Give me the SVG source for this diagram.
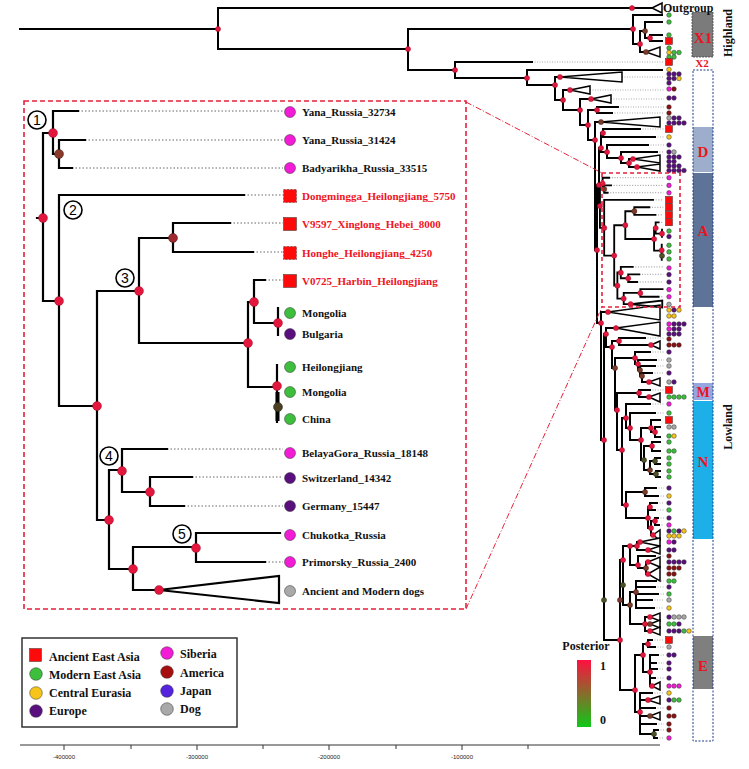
<svg xmlns="http://www.w3.org/2000/svg" xmlns:xlink="http://www.w3.org/1999/xlink" width="749" height="769" viewBox="0 0 749 769">
<style>
.br{fill:none;stroke:#000;stroke-width:2;stroke-linecap:square}
.dt{fill:none;stroke:#888;stroke-width:0.7;stroke-dasharray:1 1.5}
.tri{fill:#fff;stroke:#000;stroke-width:1.5;stroke-linejoin:miter}
.nd{fill:#E3173E;stroke:#8a0a20;stroke-width:0.4}
.nb{fill:#7A3B2B;stroke:#3a1a10;stroke-width:0.4}
.no{fill:#4E5224;stroke:#222;stroke-width:0.4}
.mk circle,.mk rect{stroke:#333;stroke-width:0.5}
.G{fill:#3DBE3D}.P{fill:#5A0F7E}.M{fill:#F21BD6}.Y{fill:#F7C51A}.DR{fill:#8B1010}.Gy{fill:#A9A9A9}.J{fill:#5522DD}
.S{fill:#FF0A0A}
.lab{font-family:"Liberation Serif","Times New Roman",serif;font-weight:bold;font-size:11px;fill:#111}
.red{fill:#F0141E}
.leg{font-family:"Liberation Serif","Times New Roman",serif;font-weight:bold;font-size:12px;fill:#111}
.cl{font-family:"Liberation Serif","Times New Roman",serif;font-weight:bold;fill:#E8141E;text-anchor:middle}
.ax{font-family:"Liberation Sans",Arial,sans-serif;font-size:6px;fill:#222;text-anchor:middle}
.num{font-family:"Liberation Sans",Arial,sans-serif;font-size:14px;fill:#000;text-anchor:middle}
</style>
<defs>
<linearGradient id="post" x1="0" y1="0" x2="0" y2="1">
<stop offset="0" stop-color="#FF1040"/>
<stop offset="1" stop-color="#10C818"/>
</linearGradient>
<g id="insetLines" fill="none" stroke="#000" stroke-linecap="square">
<path d="M37,218H43 M43,133V301 M43,133H53 M53,111V154 M53,111H78 M53,154H59 M59,140V168 M59,140H85 M59,168H72 M43,301H59 M59,195V406 M59,195H244 M59,406H97 M97,291V520 M97,291H139 M139,238V343 M139,238H173 M173,223V252 M173,223H230 M173,252H253 M139,343H248 M248,302V387 M248,302H254 M254,280V323 M254,280H265 M254,323H278 M278,308V335 M248,387H277 M277,365V422 M97,520H109 M109,470V569 M109,470H122 M122,449V492 M122,449H167 M122,492H150 M150,477V506 M150,477H192 M150,506H184 M109,569H133 M133,547V590 M133,547H196 M196,533V562 M196,533H280 M196,562H265 M133,590H159"/>
<polygon points="159,590 279,576 279,603"/>
</g>
<g id="insetDots" fill="none" stroke="#666">
<path d="M78,111H283 M85,140H283 M72,168H283 M244,195H283 M230,223H283 M253,252H283 M265,280H283 M167,449H283 M192,477H283 M184,506H283 M265,562H283"/>
</g>
</defs>
<rect width="749" height="769" fill="#fff"/>

<!-- clade bars -->
<g id="clades">
<rect x="692" y="12" width="21" height="45" fill="#7B7B7B" stroke="#444" stroke-width="0.8" stroke-dasharray="2 1"/>
<rect x="693" y="70" width="20" height="671" fill="#fff"/>
<rect x="693" y="127" width="20" height="45" fill="#9CAECB"/>
<rect x="693" y="173" width="20" height="134" fill="#5E7398"/>
<rect x="693" y="383" width="20" height="17" fill="#96A6DE"/>
<rect x="693" y="401" width="20" height="138" fill="#1DAFE8"/>
<rect x="693" y="636" width="20" height="53" fill="#7F7F7F"/>
<rect x="693" y="70" width="20" height="671" fill="none" stroke="#1F3C88" stroke-width="1" stroke-dasharray="2 1.5"/>
<text class="cl" x="703" y="43" font-size="15">X1</text>
<text class="cl" x="702" y="67" font-size="11">X2</text>
<text class="cl" x="703" y="157" font-size="15">D</text>
<text class="cl" x="703" y="236" font-size="15">A</text>
<text class="cl" x="703" y="397" font-size="14">M</text>
<text class="cl" x="703" y="467" font-size="15">N</text>
<text class="cl" x="703" y="671" font-size="15">E</text>
<text class="leg" transform="translate(732,33) rotate(-90)" text-anchor="middle">Highland</text>
<text class="leg" transform="translate(732,427) rotate(-90)" text-anchor="middle">Lowland</text>
</g>

<!-- main tree connectors -->
<g id="connectors">
<path class="dt" d="M532,62H664 M622,77H664 M590,90H664 M611,99H664 M618,107H664 M612,113H664 M640,129H664 M655,137H664 M648,145H664 M657,152H664 M645,338H664 M650,352H664 M656,360H664 M655,366H664 M652,373H664 M650,390H664 M650,404H664 M655,413H664 M656,488H664 M658,496H664 M657,503H664 M655,510H664 M658,518H664 M659,525H664 M655,556H664 M656,581H664 M655,587H664 M658,594H664 M652,600H664 M654,608H664 M652,640H664 M655,647H664 M658,655H664 M656,663H664 M657,669H664 M655,678H664 M652,693H664 M655,708H664 M656,724H664 M658,730H664 M657,738H664"/>
<path class="br" d="M20,29H218 M218,8V49 M218,8H652 M218,49H408 M408,29V70 M408,29H633 M408,70H455 M455,62V78 M455,62H532 M455,78H527 M527,70V85 M527,70H662 M527,85H555
M633,15V44 M633,15H662 M633,44H640 M640,31V52 M640,31H645 M645,22V38 M645,22H662 M645,38H650 M650,35V41 M650,35H662 M650,41H662 M640,52H646
M555,77V100 M555,77H560 M555,100H563 M563,90V110 M563,90H570 M563,110H580 M580,99V125 M580,99H591 M580,125H588 M588,110V140 M588,110H597 M597,107V113 M597,107H618 M597,113H612 M588,140H595
M595,122V250 M595,122H601 M595,250H597
M597,185V323 M597,185H599 M597,323H601
M599,148V206 M599,148H601 M599,206H600
M601,133V152 M601,133H603 M601,152H607
M603,129V137 M603,129H640 M603,137H655
M607,145V158 M607,145H648 M607,158H621
M621,152V163 M621,152H657 M621,163H629
M629,159V167 M629,159H633 M629,167H637
M601,312V440 M601,312H608 M601,440H604
M604,334V640 M604,334H606 M604,640H620
M606,328V347 M606,328H616 M606,347H612
M612,341V368 M612,341H619 M612,368H615
M619,338V345 M619,338H645 M619,345H651
M615,358V410 M615,358H635 M615,410H617
M635,352V364 M635,352H650 M635,364H638
M638,360V370 M638,360H656 M638,370H640
M640,366V376 M640,366H655 M640,376H642
M642,373V382 M642,373H652 M642,382H649
M617,393V450 M617,393H639 M617,450H622
M639,390V397 M639,390H650 M639,397H649
M622,418V505 M622,418H626 M622,505H626
M626,404V428 M626,404H650 M626,428H630
M630,413V440 M630,413H655 M630,440H641
M641,428V460 M641,428H651 M641,460H644
M651,420V432 M651,420H660 M651,432H655
M655,427V437 M655,427H660 M655,437H660
M644,446V470 M644,446H652 M644,470H650
M652,442V451 M652,442H660 M652,451H660
M650,461V474 M650,461H655 M650,474H656
M655,458V464 M655,458H660 M655,464H660
M656,471V477 M656,471H660 M656,477H660
M626,492V518 M626,492H645 M626,518H648
M645,488V496 M645,488H656 M645,496H658
M648,507V528 M648,507H650 M648,528H651
M650,503V510 M650,503H657 M650,510H655
M651,521V535 M651,521H655 M651,535H653
M655,518V525 M655,518H658 M655,525H659
M620,560V690 M620,560H623 M620,690H635
M623,546V605 M623,546H630 M623,605H630
M630,546V565 M630,546H637 M630,565H638
M637,542V550 M637,542H640 M637,550H648
M638,556V568 M638,556H655 M638,568H646
M646,562V574 M646,562H648 M646,574H648
M630,592V624 M630,592H636 M630,624H645
M636,581V608 M636,581H656 M636,587H655 M636,594H658 M636,600H652 M636,608H654
M645,617V631 M645,617H650 M645,624H650 M645,631H650
M635,655V712 M635,655H643 M635,712H640
M643,644V672 M643,644H648 M643,672H650
M648,640V647 M648,640H652 M648,647H655
M650,655V686 M650,655H658 M650,663H656 M650,669H657 M650,678H655 M650,686H652
M640,693V734 M640,693H652 M640,700H648 M640,708H655 M640,716H650 M640,724H656 M640,734H654
M654,730V738 M654,730H658 M654,738H657"/>
<g id="triangles">
<polygon class="tri" points="652,8 662,3 662,13"/>
<polygon class="tri" points="646,52 660,47 660,57"/>
<polygon class="tri" points="560,77 622,72 622,82"/>
<polygon class="tri" points="570,90 590,86 590,94"/>
<polygon class="tri" points="591,99 611,95 611,103"/>
<polygon class="tri" points="601,122 660,117 660,127"/>
<polygon class="tri" points="633,159 660,155 660,163"/>
<polygon class="tri" points="637,167 660,164 660,171"/>
<polygon class="tri" points="608,312 660,305 660,320"/>
<polygon class="tri" points="616,328 660,322 660,336"/>
<polygon class="tri" points="651,345 660,341 660,349"/>
<polygon class="tri" points="649,382 660,378 660,386"/>
<polygon class="tri" points="649,397 660,393 660,402"/>
<polygon class="tri" points="653,535 660,530 660,540"/>
<polygon class="tri" points="640,542 660,538 660,546"/>
<polygon class="tri" points="648,550 660,546 660,554"/>
<polygon class="tri" points="648,562 660,557 660,567"/>
<polygon class="tri" points="648,574 660,567 660,581"/>
<polygon class="tri" points="650,617 660,613 660,621"/>
<polygon class="tri" points="650,624 660,620 660,628"/>
<polygon class="tri" points="650,631 660,627 660,635"/>
<polygon class="tri" points="652,686 660,682 660,690"/>
<polygon class="tri" points="648,700 660,696 660,704"/>
<polygon class="tri" points="650,716 660,712 660,720"/>
</g>
<!-- small copy of inset clade inside main tree -->
<use xlink:href="#insetDots" transform="translate(588.6,148.4) scale(0.264)" stroke-width="2.6" stroke-dasharray="4 6"/>
<use xlink:href="#insetLines" transform="translate(588.6,148.4) scale(0.264)" stroke-width="7"/>
</g>

<!-- main tree node posteriors -->
<g id="tree-nodes">
<g class="nd">
<circle cx="218" cy="29" r="2.6"/><circle cx="408" cy="49" r="2.6"/><circle cx="455" cy="70" r="2.6"/><circle cx="527" cy="78" r="2.6"/><circle cx="632" cy="8" r="2.6"/><circle cx="633" cy="29" r="2.6"/><circle cx="640" cy="44" r="2.6"/><circle cx="650" cy="38" r="2.6"/>
<circle cx="555" cy="85" r="2.6"/><circle cx="560" cy="77" r="2.6"/><circle cx="563" cy="100" r="2.6"/><circle cx="570" cy="90" r="2.6"/><circle cx="580" cy="110" r="2.6"/><circle cx="591" cy="99" r="2.6"/><circle cx="588" cy="125" r="2.6"/><circle cx="597" cy="110" r="2.6"/><circle cx="595" cy="140" r="2.6"/>
<circle cx="597" cy="250" r="2.6"/><circle cx="599" cy="185" r="2.6"/><circle cx="601" cy="148" r="2.6"/><circle cx="603" cy="133" r="2.6"/><circle cx="607" cy="152" r="2.6"/><circle cx="621" cy="158" r="2.6"/><circle cx="629" cy="163" r="2.6"/><circle cx="633" cy="159" r="2.6"/><circle cx="637" cy="167" r="2.6"/>
<circle cx="600" cy="206" r="2.6"/><circle cx="602.6" cy="183.5" r="2.6"/><circle cx="604.2" cy="227.9" r="2.6"/><circle cx="614.2" cy="255.6" r="2.6"/><circle cx="625.3" cy="225.2" r="2.6"/><circle cx="654.1" cy="239" r="2.6"/><circle cx="655.7" cy="228.1" r="2.6"/><circle cx="662" cy="233.7" r="2.6"/><circle cx="661.7" cy="250.3" r="2.6"/><circle cx="617.4" cy="285.7" r="2.6"/><circle cx="620.8" cy="272.7" r="2.6"/><circle cx="628.2" cy="278.3" r="2.6"/><circle cx="623.7" cy="298.6" r="2.6"/><circle cx="640.3" cy="293.1" r="2.6"/><circle cx="630.6" cy="304.2" r="2.6"/>
<circle cx="601" cy="323" r="2.6"/><circle cx="608" cy="312" r="2.6"/><circle cx="604" cy="440" r="2.6"/><circle cx="606" cy="334" r="2.6"/><circle cx="616" cy="328" r="2.6"/><circle cx="612" cy="347" r="2.6"/><circle cx="619" cy="341" r="2.6"/><circle cx="651" cy="345" r="2.6"/><circle cx="635" cy="358" r="2.6"/><circle cx="638" cy="364" r="2.6"/><circle cx="649" cy="382" r="2.6"/><circle cx="617" cy="410" r="2.6"/><circle cx="639" cy="393" r="2.6"/><circle cx="649" cy="397" r="2.6"/><circle cx="622" cy="450" r="2.6"/><circle cx="626" cy="418" r="2.6"/><circle cx="630" cy="428" r="2.6"/><circle cx="641" cy="440" r="2.6"/><circle cx="651" cy="428" r="2.6"/><circle cx="655" cy="432" r="2.6"/><circle cx="652" cy="446" r="2.6"/><circle cx="626" cy="505" r="2.6"/><circle cx="648" cy="518" r="2.6"/><circle cx="650" cy="507" r="2.6"/><circle cx="651" cy="528" r="2.6"/><circle cx="653" cy="535" r="2.6"/><circle cx="655" cy="521" r="2.6"/>
<circle cx="620" cy="640" r="2.6"/><circle cx="623" cy="560" r="2.6"/><circle cx="630" cy="546" r="2.6"/><circle cx="637" cy="546" r="2.6"/><circle cx="640" cy="542" r="2.6"/><circle cx="648" cy="550" r="2.6"/><circle cx="638" cy="565" r="2.6"/><circle cx="648" cy="562" r="2.6"/><circle cx="648" cy="574" r="2.6"/><circle cx="645" cy="624" r="2.6"/><circle cx="650" cy="617" r="2.6"/><circle cx="650" cy="631" r="2.6"/><circle cx="635" cy="690" r="2.6"/><circle cx="643" cy="655" r="2.6"/><circle cx="648" cy="644" r="2.6"/><circle cx="650" cy="672" r="2.6"/><circle cx="652" cy="686" r="2.6"/><circle cx="640" cy="712" r="2.6"/><circle cx="648" cy="700" r="2.6"/>
</g>
<g class="nb">
<circle cx="645" cy="31" r="2.6"/><circle cx="646" cy="52" r="2.6"/><circle cx="601" cy="122" r="2.6"/><circle cx="604.2" cy="189.1" r="2.6"/><circle cx="634.3" cy="211.2" r="2.6"/><circle cx="615" cy="368" r="2.6"/><circle cx="640" cy="370" r="2.6"/><circle cx="642" cy="376" r="2.6"/><circle cx="650" cy="470" r="2.6"/><circle cx="645" cy="492" r="2.6"/><circle cx="646" cy="568" r="2.6"/><circle cx="630" cy="605" r="2.6"/><circle cx="636" cy="592" r="2.6"/><circle cx="650" cy="624" r="2.6"/><circle cx="650" cy="716" r="2.6"/><circle cx="620" cy="600" r="2.6"/>
</g>
<g class="no">
<circle cx="662" cy="255.8" r="2.6"/><circle cx="644" cy="460" r="2.6"/><circle cx="655" cy="461" r="2.6"/><circle cx="656" cy="474" r="2.6"/><circle cx="654" cy="734" r="2.6"/><circle cx="623" cy="585" r="2.6"/><circle cx="604" cy="600" r="2.6"/>
</g>
</g>

<!-- tip markers -->
<g id="tip-markers" class="mk">
<circle class="G" cx="669" cy="15" r="2.3"/><circle class="G" cx="669" cy="22" r="2.3"/><circle class="G" cx="669" cy="35" r="2.3"/><rect class="S" x="665.5" y="37.5" width="7" height="7"/>
<circle class="G" cx="669" cy="48" r="2.3"/><circle class="Y" cx="669" cy="52.5" r="2.3"/><circle class="G" cx="674" cy="52.5" r="2.3"/><circle class="G" cx="679" cy="52.5" r="2.3"/><circle class="G" cx="669" cy="57" r="2.3"/><circle class="G" cx="674" cy="57" r="2.3"/>
<rect class="S" x="665.5" y="58.5" width="7" height="7"/><circle class="Y" cx="669" cy="69.5" r="2.3"/>
<circle class="P" cx="669" cy="74" r="2.3"/><circle class="P" cx="674" cy="74" r="2.3"/><circle class="P" cx="679" cy="74" r="2.3"/>
<circle class="P" cx="669" cy="78.5" r="2.3"/><circle class="P" cx="674" cy="78.5" r="2.3"/><circle class="Y" cx="679" cy="78.5" r="2.3"/><circle class="P" cx="669" cy="83" r="2.3"/>
<circle class="M" cx="669" cy="89" r="2.3"/><circle class="DR" cx="674" cy="89" r="2.3"/>
<circle class="P" cx="669" cy="98" r="2.3"/><circle class="P" cx="674" cy="98" r="2.3"/>
<circle class="DR" cx="669" cy="107" r="2.3"/><circle class="DR" cx="669" cy="113" r="2.3"/>
<circle class="Gy" cx="669" cy="118" r="2.3"/><circle class="P" cx="674" cy="118" r="2.3"/><circle class="P" cx="679" cy="118" r="2.3"/>
<circle class="P" cx="669" cy="123" r="2.3"/><circle class="P" cx="674" cy="123" r="2.3"/><circle class="P" cx="679" cy="123" r="2.3"/><circle class="P" cx="684" cy="123" r="2.3"/>
<rect class="S" x="665.5" y="125.5" width="7" height="7"/><circle class="Y" cx="669" cy="137" r="2.3"/><circle class="P" cx="669" cy="145" r="2.3"/>
<circle class="P" cx="669" cy="152" r="2.3"/><circle class="Gy" cx="674" cy="152" r="2.3"/>
<circle class="P" cx="669" cy="157" r="2.3"/><circle class="P" cx="674" cy="157" r="2.3"/><circle class="P" cx="679" cy="157" r="2.3"/>
<circle class="P" cx="669" cy="161.5" r="2.3"/><circle class="P" cx="674" cy="161.5" r="2.3"/>
<circle class="P" cx="669" cy="166" r="2.3"/><circle class="P" cx="674" cy="166" r="2.3"/><circle class="P" cx="679" cy="166" r="2.3"/>
<circle class="P" cx="669" cy="170.5" r="2.3"/><circle class="P" cx="674" cy="170.5" r="2.3"/><circle class="P" cx="679" cy="170.5" r="2.3"/><circle class="P" cx="684" cy="170.5" r="2.3"/>
<circle class="M" cx="669" cy="177.7" r="2.3"/><circle class="M" cx="669" cy="185.4" r="2.3"/><circle class="M" cx="669" cy="192.8" r="2.3"/>
<rect class="S" x="665.5" y="196.4" width="7" height="7"/><rect class="S" x="665.5" y="203.8" width="7" height="7"/><rect class="S" x="665.5" y="211.4" width="7" height="7"/><rect class="S" x="665.5" y="218.8" width="7" height="7"/>
<circle class="G" cx="669" cy="231" r="2.3"/><circle class="P" cx="669" cy="236.6" r="2.3"/><circle class="G" cx="669" cy="245.3" r="2.3"/><circle class="G" cx="669" cy="251.9" r="2.3"/><circle class="G" cx="669" cy="259" r="2.3"/>
<circle class="M" cx="669" cy="268" r="2.3"/><circle class="P" cx="669" cy="274.6" r="2.3"/><circle class="P" cx="669" cy="282" r="2.3"/><circle class="M" cx="669" cy="289.6" r="2.3"/><circle class="M" cx="669" cy="296.8" r="2.3"/><circle class="Gy" cx="669" cy="304.4" r="2.3"/>
<circle class="Y" cx="669" cy="310" r="2.3"/><circle class="P" cx="674" cy="310" r="2.3"/><circle class="Y" cx="679" cy="310" r="2.3"/><circle class="Y" cx="669" cy="316" r="2.3"/><circle class="Y" cx="674" cy="316" r="2.3"/>
<circle class="M" cx="669" cy="324" r="2.3"/><circle class="P" cx="674" cy="324" r="2.3"/><circle class="P" cx="679" cy="324" r="2.3"/><circle class="P" cx="684" cy="324" r="2.3"/>
<circle class="M" cx="669" cy="329" r="2.3"/><circle class="P" cx="674" cy="329" r="2.3"/><circle class="P" cx="679" cy="329" r="2.3"/>
<circle class="P" cx="669" cy="334" r="2.3"/><circle class="P" cx="674" cy="334" r="2.3"/><circle class="P" cx="679" cy="334" r="2.3"/>
<circle class="DR" cx="669" cy="339" r="2.3"/><circle class="DR" cx="669" cy="345" r="2.3"/><circle class="DR" cx="674" cy="345" r="2.3"/><circle class="DR" cx="679" cy="345" r="2.3"/>
<circle class="P" cx="669" cy="352" r="2.3"/><circle class="Gy" cx="669" cy="360" r="2.3"/><circle class="Gy" cx="669" cy="366" r="2.3"/><circle class="P" cx="669" cy="373" r="2.3"/><circle class="Gy" cx="669" cy="382" r="2.3"/><circle class="P" cx="674" cy="382" r="2.3"/>
<rect class="S" x="665.5" y="386.5" width="7" height="7"/>
<circle class="G" cx="669" cy="397" r="2.3"/><circle class="G" cx="674" cy="397" r="2.3"/><circle class="G" cx="679" cy="397" r="2.3"/><circle class="G" cx="684" cy="397" r="2.3"/>
<circle class="M" cx="669" cy="404" r="2.3"/><circle class="G" cx="669" cy="413" r="2.3"/><rect class="S" x="665.5" y="416.5" width="7" height="7"/>
<circle class="Gy" cx="669" cy="427" r="2.3"/><circle class="Gy" cx="674" cy="427" r="2.3"/><circle class="G" cx="669" cy="436" r="2.3"/><circle class="Y" cx="674" cy="436" r="2.3"/>
<circle class="G" cx="669" cy="442" r="2.3"/><circle class="G" cx="669" cy="451" r="2.3"/><circle class="G" cx="674" cy="451" r="2.3"/><circle class="G" cx="669" cy="458" r="2.3"/><circle class="G" cx="669" cy="464" r="2.3"/><circle class="G" cx="669" cy="471" r="2.3"/><circle class="G" cx="669" cy="477" r="2.3"/>
<circle class="P" cx="669" cy="488" r="2.3"/><circle class="Y" cx="669" cy="496" r="2.3"/><circle class="P" cx="669" cy="503" r="2.3"/><circle class="G" cx="669" cy="510" r="2.3"/><circle class="P" cx="669" cy="518" r="2.3"/><circle class="M" cx="669" cy="525" r="2.3"/>
<circle class="P" cx="669" cy="531" r="2.3"/><circle class="G" cx="674" cy="531" r="2.3"/><circle class="P" cx="679" cy="531" r="2.3"/><circle class="Y" cx="684" cy="531" r="2.3"/>
<circle class="Y" cx="669" cy="536" r="2.3"/><circle class="Y" cx="674" cy="536" r="2.3"/><circle class="Y" cx="679" cy="536" r="2.3"/>
<circle class="M" cx="669" cy="542" r="2.3"/><circle class="P" cx="674" cy="542" r="2.3"/><circle class="P" cx="669" cy="550" r="2.3"/><circle class="P" cx="674" cy="550" r="2.3"/><circle class="DR" cx="669" cy="556" r="2.3"/>
<circle class="P" cx="669" cy="562" r="2.3"/><circle class="P" cx="674" cy="562" r="2.3"/><circle class="P" cx="679" cy="562" r="2.3"/><circle class="P" cx="684" cy="562" r="2.3"/>
<circle class="DR" cx="669" cy="568" r="2.3"/><circle class="DR" cx="674" cy="568" r="2.3"/><circle class="DR" cx="679" cy="568" r="2.3"/><circle class="DR" cx="669" cy="574" r="2.3"/><circle class="DR" cx="674" cy="574" r="2.3"/>
<circle class="G" cx="669" cy="581" r="2.3"/><circle class="G" cx="674" cy="581" r="2.3"/><circle class="P" cx="669" cy="587" r="2.3"/><circle class="G" cx="669" cy="594" r="2.3"/><circle class="Gy" cx="669" cy="600" r="2.3"/><circle class="Y" cx="669" cy="608" r="2.3"/>
<circle class="P" cx="669" cy="617" r="2.3"/><circle class="Gy" cx="674" cy="617" r="2.3"/><circle class="Gy" cx="679" cy="617" r="2.3"/><circle class="Gy" cx="684" cy="617" r="2.3"/>
<circle class="G" cx="669" cy="624" r="2.3"/><circle class="G" cx="674" cy="624" r="2.3"/><circle class="P" cx="679" cy="624" r="2.3"/>
<circle class="P" cx="669" cy="631" r="2.3"/><circle class="P" cx="674" cy="631" r="2.3"/><circle class="P" cx="679" cy="631" r="2.3"/><circle class="G" cx="684" cy="631" r="2.3"/><circle class="Y" cx="689" cy="631" r="2.3"/>
<rect class="S" x="665.5" y="636.5" width="7" height="7"/><circle class="Gy" cx="669" cy="647" r="2.3"/><circle class="P" cx="669" cy="655" r="2.3"/><circle class="P" cx="674" cy="655" r="2.3"/>
<circle class="P" cx="669" cy="663" r="2.3"/><circle class="P" cx="669" cy="669" r="2.3"/><circle class="P" cx="669" cy="678" r="2.3"/>
<circle class="M" cx="669" cy="686" r="2.3"/><circle class="M" cx="674" cy="686" r="2.3"/><circle class="M" cx="679" cy="686" r="2.3"/><circle class="Y" cx="669" cy="693" r="2.3"/>
<circle class="P" cx="669" cy="700" r="2.3"/><circle class="G" cx="674" cy="700" r="2.3"/><circle class="G" cx="679" cy="700" r="2.3"/>
<circle class="DR" cx="669" cy="708" r="2.3"/><circle class="DR" cx="669" cy="716" r="2.3"/><circle class="DR" cx="674" cy="716" r="2.3"/><circle class="DR" cx="669" cy="724" r="2.3"/><circle class="DR" cx="669" cy="730" r="2.3"/><circle class="M" cx="669" cy="738" r="2.3"/>
</g>
<text class="leg" x="663" y="12" font-size="12">Outgroup</text>

<!-- zoom indicators -->
<g id="zoom-frame" fill="none" stroke="#E8203A">
<rect x="602" y="173" width="78" height="134" stroke-width="1.6" stroke-dasharray="4 3"/>
<path d="M466,102L602,173 M466,609L602,307" stroke-width="1" stroke-dasharray="6 2 1 2"/>
<rect x="24" y="101" width="442" height="508" stroke-width="1.6" stroke-dasharray="5 3"/>
</g>

<!-- inset tree -->
<g id="inset">
<use xlink:href="#insetDots" stroke-width="1" stroke-dasharray="1.5 2"/>
<use xlink:href="#insetLines" stroke-width="2.2"/>
<path d="M277.5,392V421" stroke="#000" stroke-width="4" fill="none"/>
<g class="nd">
<circle cx="43" cy="218" r="4.5"/><circle cx="53" cy="133" r="4.5"/><circle cx="59" cy="301" r="4.5"/><circle cx="97" cy="406" r="4.5"/><circle cx="139" cy="291" r="4.5"/><circle cx="248" cy="343" r="4.5"/><circle cx="254" cy="302" r="4.5"/><circle cx="278" cy="323" r="4.5"/><circle cx="277" cy="386" r="4.5"/><circle cx="109" cy="520" r="4.5"/><circle cx="122" cy="471" r="4.5"/><circle cx="150" cy="492" r="4.5"/><circle cx="133" cy="569" r="4.5"/><circle cx="196" cy="548" r="4.5"/><circle cx="159" cy="590" r="4.5"/>
</g>
<circle cx="59" cy="154" r="4.5" fill="#8B3A2A" stroke="#3a1a10" stroke-width="0.5"/>
<circle cx="173" cy="238" r="4.5" fill="#A0282E" stroke="#3a1a10" stroke-width="0.5"/>
<circle cx="278" cy="407" r="4.5" fill="#4A4020" stroke="#222" stroke-width="0.5"/>
<g id="num1"><circle cx="37" cy="120" r="9" fill="#fff" stroke="#000" stroke-width="1.6"/><text class="num" x="37" y="125">1</text></g>
<g id="num2"><circle cx="73" cy="210" r="9" fill="#fff" stroke="#000" stroke-width="1.6"/><text class="num" x="73" y="215">2</text></g>
<g id="num3"><circle cx="125" cy="278" r="9" fill="#fff" stroke="#000" stroke-width="1.6"/><text class="num" x="125" y="283">3</text></g>
<g id="num4"><circle cx="109" cy="456" r="9" fill="#fff" stroke="#000" stroke-width="1.6"/><text class="num" x="109" y="461">4</text></g>
<g id="num5"><circle cx="182" cy="534" r="9" fill="#fff" stroke="#000" stroke-width="1.6"/><text class="num" x="182" y="539">5</text></g>
<g class="mk">
<g id="tip-yana1"><circle class="M" cx="290" cy="112" r="5.5"/><text class="lab" x="302" y="116">Yana_Russia_32734</text></g>
<g id="tip-yana2"><circle class="M" cx="290" cy="140" r="5.5"/><text class="lab" x="302" y="144">Yana_Russia_31424</text></g>
<g id="tip-bady"><circle class="M" cx="290" cy="168" r="5.5"/><text class="lab" x="302" y="172">Badyarikha_Russia_33515</text></g>
<g id="tip-dong"><rect class="S" x="283.5" y="189.5" width="13" height="13" stroke="#700" stroke-width="1" stroke-dasharray="2 1.5"/><text class="lab red" x="302" y="200">Dongmingga_Heilongjiang_5750</text></g>
<g id="tip-v9597"><rect class="S" x="283.5" y="217.5" width="13" height="13"/><text class="lab red" x="302" y="228">V9597_Xinglong_Hebei_8000</text></g>
<g id="tip-honghe"><rect class="S" x="283.5" y="246.5" width="13" height="13" stroke="#700" stroke-width="1" stroke-dasharray="2 1.5"/><text class="lab red" x="302" y="257">Honghe_Heilongjiang_4250</text></g>
<g id="tip-v0725"><rect class="S" x="283.5" y="274.5" width="13" height="13"/><text class="lab red" x="302" y="285">V0725_Harbin_Heilongjiang</text></g>
<g id="tip-mong1"><circle class="G" cx="290" cy="313" r="5.5"/><text class="lab" x="302" y="317">Mongolia</text></g>
<g id="tip-bulg"><circle class="P" cx="290" cy="334" r="5.5"/><text class="lab" x="302" y="338">Bulgaria</text></g>
<g id="tip-heil"><circle class="G" cx="290" cy="367" r="5.5"/><text class="lab" x="302" y="371">Heilongjiang</text></g>
<g id="tip-mong2"><circle class="G" cx="290" cy="392" r="5.5"/><text class="lab" x="302" y="396">Mongolia</text></g>
<g id="tip-china"><circle class="G" cx="290" cy="419" r="5.5"/><text class="lab" x="302" y="423">China</text></g>
<g id="tip-belaya"><circle class="M" cx="290" cy="453" r="5.5"/><text class="lab" x="302" y="457">BelayaGora_Russia_18148</text></g>
<g id="tip-swiss"><circle class="P" cx="290" cy="478" r="5.5"/><text class="lab" x="302" y="482">Switzerland_14342</text></g>
<g id="tip-germ"><circle class="P" cx="290" cy="506" r="5.5"/><text class="lab" x="302" y="510">Germany_15447</text></g>
<g id="tip-chuk"><circle class="M" cx="290" cy="535" r="5.5"/><text class="lab" x="302" y="539">Chukotka_Russia</text></g>
<g id="tip-prim"><circle class="M" cx="290" cy="562" r="5.5"/><text class="lab" x="302" y="566">Primorsky_Russia_2400</text></g>
<g id="tip-dogs"><circle class="Gy" cx="290" cy="591" r="5.5"/><text class="lab" x="302" y="595">Ancient and Modern dogs</text></g>
</g>
</g>

<!-- legend -->
<g id="legend">
<rect x="22" y="638" width="215" height="89" fill="#fff" stroke="#333" stroke-width="1.5"/>
<g class="mk">
<rect class="S" x="29.5" y="648.5" width="12" height="13"/>
<circle class="G" cx="36" cy="674" r="6.3"/>
<circle class="Y" cx="36" cy="693" r="6.3"/>
<circle class="P" cx="36" cy="711" r="6.3"/>
<circle class="M" cx="167" cy="653" r="6.3"/>
<circle cx="167" cy="672" r="6.3" fill="#A50F0F"/>
<circle class="J" cx="167" cy="691" r="6.3"/>
<circle class="Gy" cx="167" cy="709" r="6.3"/>
</g>
<text class="leg" x="49" y="661">Ancient East Asia</text>
<text class="leg" x="49" y="679">Modern East Asia</text>
<text class="leg" x="49" y="697">Central Eurasia</text>
<text class="leg" x="49" y="715">Europe</text>
<text class="leg" x="180" y="658">Siberia</text>
<text class="leg" x="180" y="677">America</text>
<text class="leg" x="180" y="695">Japan</text>
<text class="leg" x="180" y="713">Dog</text>
</g>

<!-- posterior scale -->
<g id="posterior">
<text class="leg" x="586" y="650" font-size="14.5" text-anchor="middle">Posterior</text>
<rect x="577" y="660" width="14" height="67" fill="url(#post)"/>
<text class="leg" x="600" y="670" font-size="14">1</text>
<text class="leg" x="600" y="724" font-size="14">0</text>
</g>

<!-- time axis -->
<g id="axis">
<path d="M20,745H660 M64,745V750 M131,745V749 M197,745V750 M263,745V749 M329,745V750 M396,745V749 M462,745V750 M528,745V749" stroke="#333" stroke-width="1" fill="none"/>
<text class="ax" x="64" y="759">-400000</text>
<text class="ax" x="197" y="759">-300000</text>
<text class="ax" x="329" y="759">-200000</text>
<text class="ax" x="462" y="759">-100000</text>
</g>
</svg>
